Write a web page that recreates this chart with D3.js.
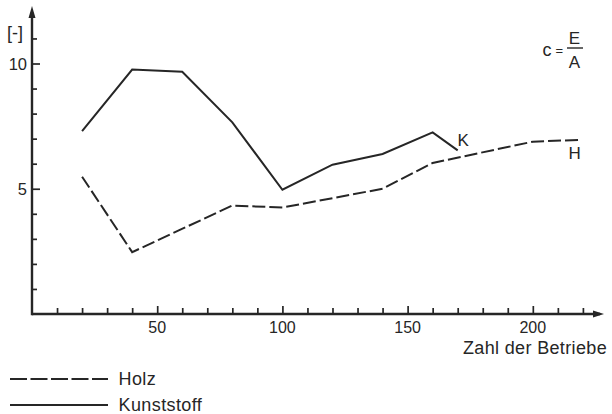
<!DOCTYPE html>
<html>
<head>
<meta charset="utf-8">
<script src="https://cdn.jsdelivr.net/npm/d3@7"></script>
<style>
  body { margin: 0; background: #fff; }
  text { font-family: "Liberation Sans", Arial, sans-serif; fill: #262626; }
</style>
</head>
<body>
<svg id="chart" width="612" height="414"></svg>
<script>
// values
var holzX = [20, 40, 80, 100, 140, 160, 200, 219];
var holzY = [5.48, 2.47, 4.33, 4.25, 5.0, 6.03, 6.88, 6.95];
var kunstX = [20, 40, 60, 80, 100, 120, 140, 160, 170];
var kunstY = [7.3, 9.76, 9.67, 7.65, 4.96, 5.96, 6.39, 7.25, 6.53];
var xLabels = [50, 100, 150, 200];
var yLabels = [5, 10];
var seriesNames = ["Holz", "Kunststoff"];
var seriesTags = ["H", "K"];

var ink = "#262626";
var svg = d3.select("#chart");

var x = d3.scaleLinear().domain([0, 220]).range([32, 582.9]);
var y = d3.scaleLinear().domain([0, 10]).range([314, 63.5]);

var line = d3.line()
    .x(function(d) { return x(d[0]); })
    .y(function(d) { return y(d[1]); });

// axes, ticks pointing into the plot
var gx = svg.append("g")
    .attr("transform", "translate(0," + y(0) + ")")
    .call(d3.axisBottom(x)
        .tickValues(d3.range(10, 230, 10))
        .tickSize(-6)
        .tickFormat(""));
gx.select(".domain").remove();
gx.selectAll(".tick line")
    .attr("stroke", ink).attr("stroke-width", 1.7)
    .attr("y2", function(d) { return xLabels.indexOf(d) >= 0 ? -8 : -6; });

var gy = svg.append("g")
    .attr("transform", "translate(" + x(0) + ",0)")
    .call(d3.axisLeft(y)
        .tickValues(d3.range(1, 12))
        .tickSize(-5)
        .tickFormat(""));
gy.select(".domain").remove();
gy.selectAll(".tick line")
    .attr("stroke", ink).attr("stroke-width", 1.7)
    .attr("x2", function(d) { return yLabels.indexOf(d) >= 0 ? 8 : 5; });

// axis lines with arrow heads
svg.append("line").attr("x1", x(0)).attr("x2", 600).attr("y1", y(0)).attr("y2", y(0))
    .attr("stroke", ink).attr("stroke-width", 2.4);
svg.append("path").attr("d", "M604," + y(0) + "l-11,-3.5v7z").attr("fill", ink);
svg.append("line").attr("x1", x(0)).attr("x2", x(0)).attr("y1", y(0) + 1.2).attr("y2", 12)
    .attr("stroke", ink).attr("stroke-width", 2.4);
svg.append("path").attr("d", "M" + x(0) + ",6l-3.5,12h7z").attr("fill", ink);

// tick labels
svg.selectAll(".xl").data(xLabels).enter().append("text")
    .attr("x", function(d) { return x(d); })
    .attr("y", 333)
    .attr("text-anchor", "middle")
    .style("font-size", "16px")
    .text(function(d) { return d; });

svg.selectAll(".yl").data(yLabels).enter().append("text")
    .attr("x", 27)
    .attr("y", function(d) { return y(d) + 6; })
    .attr("text-anchor", "end")
    .style("font-size", "16.5px")
    .text(function(d) { return d; });

svg.append("text").attr("x", 7).attr("y", 39).style("font-size", "18px").text("[-]");

svg.append("text").attr("x", 607).attr("y", 353.5).attr("text-anchor", "end")
    .style("font-size", "18px").style("letter-spacing", "0.35px").text("Zahl der Betriebe");

// c = E / A
svg.append("text").attr("x", 542.5).attr("y", 55.5).style("font-size", "18px").text("c");
svg.append("text").attr("x", 555.5).attr("y", 55).style("font-size", "13px").text("=");
svg.append("text").attr("x", 574.5).attr("y", 43.5).attr("text-anchor", "middle").style("font-size", "17px").text("E");
svg.append("line").attr("x1", 567).attr("x2", 583).attr("y1", 48).attr("y2", 48)
    .attr("stroke", ink).attr("stroke-width", 1.4);
svg.append("text").attr("x", 574.5).attr("y", 67.5).attr("text-anchor", "middle").style("font-size", "17px").text("A");

// series
var series = [
    { pts: d3.zip(holzX, holzY), dash: "13,4", legendDash: "17,3.5" },
    { pts: d3.zip(kunstX, kunstY), dash: null, legendDash: null }
];

series.forEach(function(s) {
    svg.append("path")
        .datum(s.pts)
        .attr("d", line)
        .attr("fill", "none")
        .attr("stroke", ink)
        .attr("stroke-width", 2)
        .attr("stroke-dasharray", s.dash);
});

// end tags
svg.append("text").attr("x", 457.5).attr("y", 145.5).style("font-size", "17px").text(seriesTags[1]);
svg.append("text").attr("x", 568.5).attr("y", 158.5).style("font-size", "17px").text(seriesTags[0]);

// legend
var lg = svg.selectAll(".lg").data(series).enter().append("g")
    .attr("transform", function(d, i) { return "translate(0," + (379 + i * 26) + ")"; });
lg.append("line").attr("x1", 10).attr("x2", 108).attr("y1", 0).attr("y2", 0)
    .attr("stroke", ink).attr("stroke-width", 2)
    .attr("stroke-dasharray", function(d) { return d.legendDash; });
lg.append("text").attr("x", 118.5).attr("y", 5.5)
    .style("font-size", "18px").style("letter-spacing", "0.4px")
    .text(function(d, i) { return seriesNames[i]; });
</script>
</body>
</html>
